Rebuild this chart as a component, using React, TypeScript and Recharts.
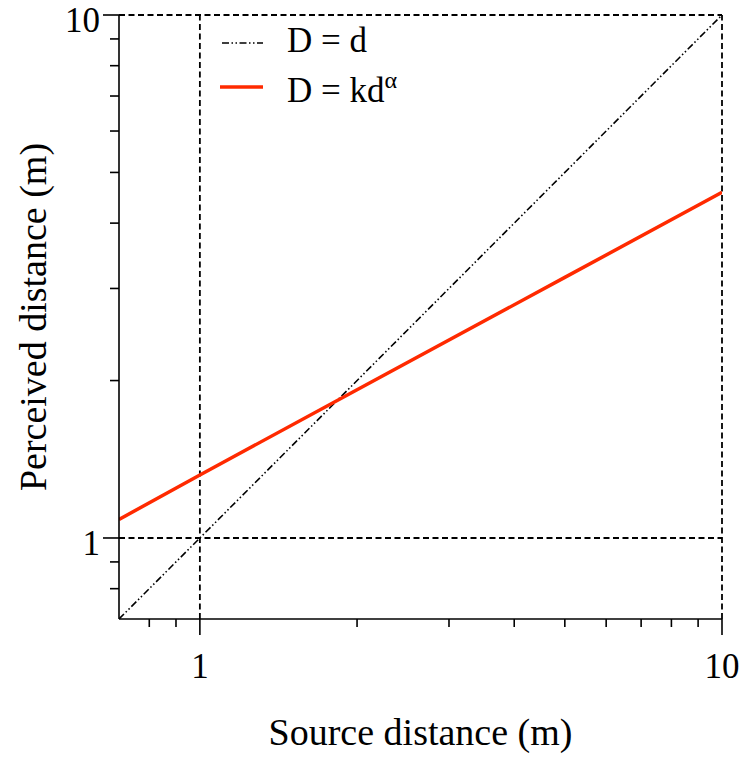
import React from "react";
import { LineChart, Line, XAxis, YAxis, ReferenceLine, Legend } from "recharts";

const FONT = "Liberation Serif";
const RED = "#ff2a00";

// source distance (m) -> perceived distance (m)
const IDENTITY = [
  { d: 0.7, D: 0.7 },
  { d: 10, D: 10 },
];
const FIT = [
  { d: 0.7, D: 1.085 },
  { d: 1, D: 1.32 },
  { d: 2, D: 1.92 },
  { d: 5, D: 3.15 },
  { d: 10, D: 4.58 },
];

const DOMAIN: [number, number] = [0.7, 10];
const TICKS = [0.8, 0.9, 1, 2, 3, 4, 5, 6, 7, 8, 9, 10];
const MAJOR = [1, 10];

const txt = (size: number) => ({ fontFamily: FONT, fontSize: size, fill: "#000" });

const XTick = (p: any) => {
  const v = p.payload.value;
  const big = MAJOR.includes(v);
  return (
    <g>
      <line x1={p.x} x2={p.x} y1={p.y} y2={p.y + (big ? 16 : 8)} stroke="#000" strokeWidth={1.6} />
      {big && (
        <text x={p.x} y={p.y + 59} textAnchor="middle" style={txt(35)}>
          {v}
        </text>
      )}
    </g>
  );
};

const YTick = (p: any) => {
  const v = p.payload.value;
  const big = MAJOR.includes(v);
  return (
    <g>
      <line x1={p.x - (big ? 16 : 9)} x2={p.x} y1={p.y} y2={p.y} stroke="#000" strokeWidth={1.6} />
      {big && (
        <text x={p.x - 19} y={p.y + 17} textAnchor="end" style={txt(35)}>
          {v}
        </text>
      )}
    </g>
  );
};

const LegendBox = () => (
  <svg width={200} height={100}>
    <line x1={7} x2={48} y1={28} y2={28} stroke="#000" strokeWidth={1.6} strokeDasharray="7 2.5 1.5 2.5 1.5 2.5" />
    <text x={72} y={37} style={txt(35)}>D = d</text>
    <line x1={5} x2={48} y1={72} y2={72} stroke={RED} strokeWidth={3.5} />
    <text x={72} y={87} style={txt(35)}>
      D = kd<tspan style={{ fontSize: 24 }} dy={-14}>α</tspan>
    </text>
  </svg>
);

export default function App() {
  return (
    <div style={{ position: "absolute", left: 0, top: 0, background: "#fff", fontFamily: FONT }}>
      <LineChart width={742} height={758} margin={{ top: 15, right: 20, left: 0, bottom: 0 }}>
        <XAxis
          type="number"
          dataKey="d"
          scale="log"
          domain={DOMAIN}
          allowDataOverflow
          ticks={TICKS}
          interval={0}
          height={139}
          tickSize={0}
          tickMargin={0}
          tickLine={false}
          axisLine={{ stroke: "#000", strokeWidth: 1.6 }}
          tick={XTick}
          label={{
            content: ({ viewBox }: any) => (
              <text
                x={viewBox.x + viewBox.width / 2}
                y={viewBox.y + 126}
                textAnchor="middle"
                style={txt(38)}
              >
                Source distance (m)
              </text>
            ),
          }}
        />
        <YAxis
          type="number"
          dataKey="D"
          scale="log"
          domain={DOMAIN}
          allowDataOverflow
          ticks={TICKS}
          interval={0}
          width={119}
          tickSize={0}
          tickMargin={0}
          tickLine={false}
          axisLine={{ stroke: "#000", strokeWidth: 1.6 }}
          tick={YTick}
          label={{
            content: ({ viewBox }: any) => {
              const cx = 33;
              const cy = viewBox.y + viewBox.height / 2;
              return (
                <text
                  x={cx}
                  y={cy}
                  transform={`rotate(-90 ${cx} ${cy})`}
                  textAnchor="middle"
                  dominantBaseline="central"
                  style={txt(38)}
                >
                  Perceived distance (m)
                </text>
              );
            },
          }}
        />
        <ReferenceLine x={1} stroke="#000" strokeWidth={1.8} strokeDasharray="6 3.5" />
        <ReferenceLine y={1} stroke="#000" strokeWidth={1.8} strokeDasharray="6 3.5" />
        <ReferenceLine x={10} stroke="#000" strokeWidth={1.8} strokeDasharray="6 3.5" />
        <ReferenceLine y={10} stroke="#000" strokeWidth={1.8} strokeDasharray="6 3.5" />
        <Line
          data={IDENTITY}
          dataKey="D"
          stroke="#000"
          strokeWidth={1.6}
          strokeDasharray="7 2.5 1.5 2.5 1.5 2.5"
          dot={false}
          isAnimationActive={false}
        />
        <Line data={FIT} dataKey="D" stroke={RED} strokeWidth={3.5} dot={false} isAnimationActive={false} />
        <Legend
          layout="vertical"
          align="center"
          verticalAlign="middle"
          content={LegendBox}
          wrapperStyle={{ position: "absolute", left: 215, top: 15, width: 200, height: 100 }}
        />
      </LineChart>
    </div>
  );
}
